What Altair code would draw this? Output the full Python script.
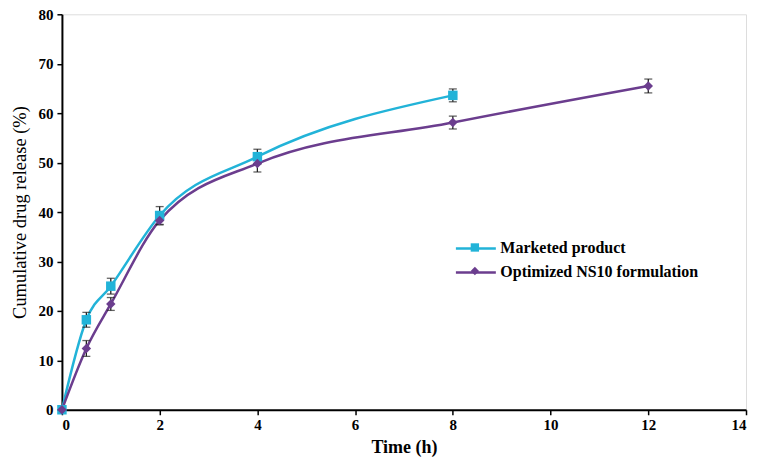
import altair as alt
import pandas as pd

series_names = ["Marketed product", "Optimized NS10 formulation"]

time_marketed = [0, 0.5, 1, 2, 4, 8]
release_marketed = [0, 18.2, 25.0, 39.3, 51.2, 63.6]
err_marketed = [0, 1.5, 1.6, 1.8, 1.5, 1.3]

time_optimized = [0, 0.5, 1, 2, 4, 8, 12]
release_optimized = [0, 12.4, 21.4, 38.3, 49.8, 58.1, 65.5]
err_optimized = [0, 1.6, 1.3, 0.9, 1.7, 1.3, 1.4]

colors = ["#22B3D8", "#6B3D8E"]
shapes = ["square", "diamond"]

rows = []
for t, v, e in zip(time_marketed, release_marketed, err_marketed):
    rows.append({"series": series_names[0], "time": t, "release": v, "lo": v - e, "hi": v + e})
for t, v, e in zip(time_optimized, release_optimized, err_optimized):
    rows.append({"series": series_names[1], "time": t, "release": v, "lo": v - e, "hi": v + e})
df = pd.DataFrame(rows)

FONT = "Liberation Serif"
YTITLE = "Cumulative drug release (%)"

x = alt.X("time:Q", scale=alt.Scale(domain=[0, 14], nice=False),
          axis=alt.Axis(values=list(range(0, 15, 2)), title="Time (h)", grid=False,
                        domainColor="black", tickColor="black", domainWidth=2, tickWidth=1.5,
                        labelFont=FONT, labelFontSize=15, labelFontWeight="bold", labelColor="black",
                        titleFont=FONT, titleFontSize=18, titleFontWeight="bold", titleColor="black",
                        tickSize=5, labelPadding=3, titlePadding=6))
y = alt.Y("release:Q", scale=alt.Scale(domain=[0, 80], nice=False),
          axis=alt.Axis(values=list(range(0, 81, 10)), title=YTITLE, grid=False,
                        domainColor="black", tickColor="black", domainWidth=2, tickWidth=1.5,
                        labelFont=FONT, labelFontSize=15, labelFontWeight="bold", labelColor="black",
                        titleFont=FONT, titleFontSize=18.5, titleFontWeight="normal", titleColor="black",
                        tickSize=5, labelPadding=4, titlePadding=8))

color_scale = alt.Scale(domain=series_names, range=colors)

LX, LY = 403, 223

base = alt.Chart(df)

lines = base.mark_line(interpolate="monotone", strokeWidth=2.5).encode(
    x=x, y=y,
    color=alt.Color("series:N", scale=color_scale, legend=alt.Legend(
        title=None, orient="none", legendX=LX, legendY=LY,
        symbolType="M-2,0H2", symbolStrokeWidth=2.5, symbolSize=400,
        labelFont=FONT, labelFontSize=16, labelFontWeight="bold",
        labelColor="black", rowPadding=4, labelOffset=13, labelLimit=400)),
)

errs = base.mark_errorbar(ticks=alt.TickConfig(size=8), thickness=1.3, color="#222222").encode(
    x="time:Q",
    y=alt.Y("lo:Q", title=YTITLE),
    y2="hi:Q",
)

pt_legend = dict(
    title=None, orient="none", legendX=LX, legendY=LY + 6,
    symbolSize=70, symbolOffset=6, symbolOpacity=1, symbolStrokeWidth=0,
    labelExpr="''", labelFontSize=1, labelColor="transparent",
    rowPadding=14.5, labelOffset=0,
)

points = base.mark_point(filled=True, opacity=1, size=90).encode(
    x="time:Q", y=alt.Y("release:Q", title=YTITLE),
    color=alt.Color("series:N", scale=color_scale, legend=alt.Legend(**pt_legend)),
    shape=alt.Shape("series:N", scale=alt.Scale(domain=series_names, range=shapes),
                    legend=alt.Legend(**pt_legend)),
)

chart = alt.layer(lines, errs, points).resolve_legend(color="independent", shape="independent").properties(
    width=685, height=396,
    autosize=alt.AutoSizeParams(type="none"),
    padding={"left": 54, "top": 6, "right": 8, "bottom": 48},
).configure_view(stroke=None).configure(background="white")

chart.save("out.html", embed_options={"renderer": "svg", "actions": False})
